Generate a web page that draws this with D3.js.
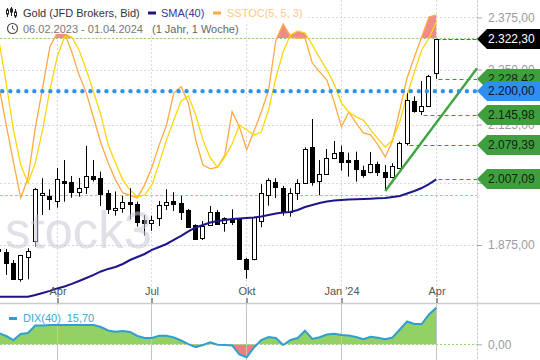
<!DOCTYPE html>
<html><head><meta charset="utf-8">
<style>html,body{margin:0;padding:0;background:#fff}svg{display:block}text{font-family:"Liberation Sans",Arial,sans-serif}</style>
<script src="https://cdn.jsdelivr.net/npm/d3@7"></script></head><body><div id="c"></div>
<script>
const opens=[1867.3,1862.1,1839.7,1810.6,1851.2,1882.3,1975.6,1973,1962.1,2003.9,2001.2,1981.8,1990.9,2014.4,2009.6,1978.5,1943.5,1947.9,1960,1956.6,1924.3,1917.8,1927.7,1954,1962.1,1958,1944.5,1913.8,1889.3,1913.8,1939.5,1917.8,1925.7,1927.7,1847.3,1848.5,1921.7,1974.4,2001.2,1988.9,1939.5,1978.5,2000.4,2075.4,2004.6,2018,2053,2064.7,2048.1,2048.1,2027,2023.7,2039,2023.7,2013,2031.9,2083.6,2176.9,2155.1,2165.7,2241.1];
const closes=[1863.5,1840.9,1809.4,1855.1,1864,1988,1978.5,1967.4,2007.5,2000.4,1981.8,1988.9,2015,2008.1,1976.5,1945.9,1947.9,1960,1956,1919.4,1917.8,1923.7,1954,1960,1957.2,1941.1,1911.1,1886.8,1912.5,1939.5,1915.8,1927.7,1921,1847.3,1829.5,1931,1979.7,2005.4,1990.9,1939.5,1979.7,2000.4,2071.1,2002.5,2018,2051.8,2062.5,2044.5,2044.5,2028.5,2016.5,2039,2023,2013,2034.8,2084,2179.8,2155.1,2165.7,2234.3,2322.3];
const highs=[1869.3,1867.3,1846,1855.7,1868.7,1989.5,2009.6,1986.8,2031.3,2048.1,2014.4,2010.2,2078.2,2048.1,2023.5,1985.4,1982.2,1973,1988.9,1961.3,1934.4,1933,1962.7,1986.8,1980.6,1973.6,1946.5,1915.8,1922.3,1952.6,1944.5,1929.7,1945.9,1927.7,1849.9,1931,1997.1,2009.6,2009.6,1993.6,1988.9,2007.5,2075.4,2137.2,2048.1,2071.8,2089,2078.8,2063.7,2065.9,2036,2065.3,2044.5,2037.6,2041.1,2087.5,2195,2188.2,2223.3,2237.4,2322.3];
const lows=[1859.6,1817.6,1809.4,1804.9,1809.4,1871.8,1934.4,1944.5,1949.1,1961.3,1969.4,1971.5,1977.1,2002.5,1952.6,1936.4,1933,1939,1925.7,1911.1,1893.7,1902.6,1912.5,1944.5,1942.5,1924.3,1911.1,1884.8,1884.8,1913.8,1915.8,1901.2,1914.4,1847.3,1810.6,1845.4,1910,1953.2,1968.8,1933,1931,1964.7,2000.4,1994.2,1974.4,2018,2053,2025.6,2013,2002.5,2010.8,2020,2014.4,1983.3,2009.6,2031.9,2079.39,2151.4,2145.98,2165.7,2228.42];
const sma=[1776.9,1776.9,1776.9,1776.9,1776.9,1780.2,1783.9,1787.7,1792.3,1796,1800.7,1806.2,1811.9,1817.6,1824.2,1829,1832.7,1838.4,1846,1851.8,1857.6,1865.4,1871.2,1877,1884.8,1892.7,1901.6,1909.5,1914.4,1919.4,1922.3,1924.3,1926.3,1927.3,1928.3,1929.4,1931.4,1934.4,1937.4,1939.5,1940.5,1944.5,1950.6,1954.6,1958.6,1961.6,1963.7,1964.7,1965.7,1966.1,1966.8,1967.4,1968.2,1968.8,1970.9,1973,1978,1983.1,1989.3,1997.5,2007.09];
const stochFast=[62.2,47,32.8,19,26.6,45.8,61.1,76.8,82.1,82.1,74.9,66.1,59.2,49.6,40,32.4,25.9,20.9,20.1,19,24,30.8,39.3,46.9,59.2,61.5,55.3,41.2,31.6,30.1,30.8,35.4,51.9,46.2,37.4,44.6,51.9,60.3,79.4,85.6,80.6,80.2,80.2,70.6,67.2,64.1,55.7,46.2,51.9,47.7,43.9,43.1,39.3,34.7,40.8,52.7,64.9,72.9,80.6,88.2,89];
const stochSlow=[79.4,63,45,31.6,24.7,32.4,45,60.3,72.9,80.6,80.6,75.6,68,59.5,50.7,39.3,32.4,25.9,22,19.4,20.1,24,32.4,41.2,48.8,56.1,58,50.7,41.2,34.3,30.8,34.7,39.6,46.9,45,43.1,44.2,52.7,64.9,74.9,81.4,82.9,82.1,77.5,72.6,68,62.6,55.3,51.9,50,48.8,45,41.6,38.5,41.2,48.1,58.4,67.2,75.6,80.2,86.3];
const dix=[4.85,3.56,1.84,4.42,4.85,8.07,8.07,8.28,8.28,8.28,8.28,8.28,8.28,8.28,7.42,5.92,5.41,5.71,5.28,3.56,2.7,2.7,3.69,3.65,2.92,1.63,0.04,-1.29,-0.3,0.86,-0.17,-0.3,-0.51,-4.38,-5.58,-1.37,1.84,3.13,2.7,-0.3,1.84,2.7,5.83,2.27,3,4.2,4.55,3.99,3.73,3.13,2.15,3.26,2.79,2.15,2.92,6.35,9.78,8.71,8.71,12.78,15.7];
const priceTicks=[1875,2000,2125,2250,2375];
const monthWeeks=[8,21,34,47,60];
const monthLabels=["Apr","Jul","Okt","Jan '24","Apr"];
const trendWeeks=[53,65.6];
const trendPrices=[1983.3,2252.8];
const priceLevel=2200;
const greenBadges=[{v:2228.42,from:60},{v:2145.98,from:58},{v:2079.39,from:56},{v:2007.09,from:60}];
const lastClose=2322.30;

const W=540,H=360,axisX=477;
const svg=d3.select("#c").append("svg").attr("width",W).attr("height",H);
const x=d3.scaleLinear().domain([0,60]).range([-1.15,436.25]);
const y=d3.scaleLog().domain([1875,2250]).range([245,69.5]);
const yS=d3.scaleLinear().domain([20,80]).range([195.3,38.5]);
const yD=d3.scaleLinear().domain([0,15.7]).range([344.3,307.7]);
const fmt=d3.formatLocale({decimal:",",thousands:".",grouping:[3],currency:["",""]}).format(",.2f");
const cx=i=>Math.floor(x(i))+0.5;
const idx=d3.range(opens.length);

const defs=svg.append("defs");
defs.append("clipPath").attr("id","main").append("rect").attr("x",0).attr("y",0).attr("width",axisX).attr("height",297);
defs.append("clipPath").attr("id","up").append("rect").attr("x",0).attr("y",0).attr("width",axisX).attr("height",yS(80));
defs.append("clipPath").attr("id","dn").append("rect").attr("x",0).attr("y",yS(20)).attr("width",axisX).attr("height",60);
defs.append("clipPath").attr("id","dPos").append("rect").attr("x",0).attr("y",304).attr("width",axisX).attr("height",yD(0)-304);
defs.append("clipPath").attr("id","dNeg").append("rect").attr("x",0).attr("y",yD(0)).attr("width",axisX).attr("height",360-yD(0));

// grid
const grid=svg.append("g").attr("fill","none");
priceTicks.forEach(t=>grid.append("line").attr("x1",0).attr("x2",axisX).attr("y1",Math.round(y(t))+.5).attr("y2",Math.round(y(t))+.5).attr("stroke","#d4d6e2").attr("stroke-dasharray","2 2"));
monthWeeks.forEach(w=>grid.append("line").attr("x1",cx(w)).attr("x2",cx(w)).attr("y1",0).attr("y2",297).attr("stroke","#d6d8e4").attr("stroke-dasharray","2 2"));
grid.append("line").attr("x1",axisX+.5).attr("x2",axisX+.5).attr("y1",0).attr("y2",360).attr("stroke","#cfcfd4").attr("stroke-dasharray","3 1");

// stochastic fills
const upper=i=>Math.max(stochFast[i],stochSlow[i]), lower=i=>Math.min(stochFast[i],stochSlow[i]);
svg.append("path").datum(idx).attr("clip-path","url(#up)").attr("fill","#ee8b8b")
 .attr("d",d3.area().x(i=>x(i)).y0(yS(80)).y1(i=>yS(upper(i))));
svg.append("path").datum(idx).attr("clip-path","url(#dn)").attr("fill","#a6d98a")
 .attr("d",d3.area().x(i=>x(i)).y0(yS(20)).y1(i=>yS(lower(i))));

// levels
svg.append("line").attr("x1",0).attr("x2",axisX).attr("y1",Math.floor(yS(80))+.5).attr("y2",Math.floor(yS(80))+.5).attr("stroke","#93d873").attr("stroke-dasharray","2 2");
svg.append("line").attr("x1",0).attr("x2",axisX).attr("y1",Math.floor(yS(20))+.5).attr("y2",Math.floor(yS(20))+.5).attr("stroke","#f3a89c").attr("stroke-dasharray","3 2");

// stochastic lines
const sl=a=>d3.line().x(i=>x(i)).y(i=>yS(a[i]));
svg.append("path").datum(idx).attr("fill","none").attr("stroke","#ffaa45").attr("stroke-width",1.3).attr("d",sl(stochFast));
svg.append("path").datum(idx).attr("fill","none").attr("stroke","#ffd60a").attr("stroke-width",1.3).attr("d",sl(stochSlow));

// level lines to axis
greenBadges.forEach(b=>{svg.append("line").attr("x1",cx(b.from)+2).attr("x2",axisX).attr("y1",Math.round(y(b.v))+.5).attr("y2",Math.round(y(b.v))+.5).attr("stroke","#2f9a2f").attr("stroke-width",1.2).attr("stroke-dasharray","4 3");});
svg.append("line").attr("x1",cx(60)).attr("x2",axisX).attr("y1",Math.floor(y(lastClose))+.5).attr("y2",Math.floor(y(lastClose))+.5).attr("stroke","#ee2a10").attr("stroke-width",1.2).attr("stroke-dasharray","4 2");

// candles
const c=svg.append("g").attr("clip-path","url(#main)");
c.selectAll("line").data(idx).join("line").attr("x1",cx).attr("x2",cx)
 .attr("y1",i=>y(highs[i])).attr("y2",i=>y(lows[i])).attr("stroke","#000").attr("stroke-width",1);
c.selectAll("rect").data(idx).join("rect")
 .attr("x",i=>cx(i)-2).attr("width",4)
 .attr("y",i=>Math.round(y(Math.max(opens[i],closes[i])))+.5)
 .attr("height",i=>Math.max(1,Math.round(y(Math.min(opens[i],closes[i])))-Math.round(y(Math.max(opens[i],closes[i])))))
 .attr("fill",i=>closes[i]>=opens[i]?"#fff":"#000").attr("stroke","#000").attr("stroke-width",1);

// SMA
svg.append("path").datum(idx).attr("fill","none").attr("stroke","#1d1688").attr("stroke-width",2)
 .attr("d",d3.line().x(i=>x(i)).y(i=>y(sma[i])));

// trend
svg.append("line").attr("x1",x(trendWeeks[0])).attr("y1",y(trendPrices[0])).attr("x2",x(trendWeeks[1])).attr("y2",y(trendPrices[1]))
 .attr("stroke","#3fa53f").attr("stroke-width",2.4);

// blue level
svg.append("line").attr("x1",2.3).attr("x2",axisX).attr("y1",y(priceLevel)).attr("y2",y(priceLevel))
 .attr("stroke","#2f92f2").attr("stroke-width",4.4).attr("stroke-linecap","round").attr("stroke-dasharray","0.01 8");

// watermark
svg.append("text").attr("x",5).attr("y",248).attr("font-size",52).attr("font-family","'Liberation Sans',sans-serif").attr("textLength",147).attr("lengthAdjust","spacingAndGlyphs")
 .attr("fill","#c6c8d6").attr("opacity",.55).text("stock3");

// right axis
const ax=svg.append("g").attr("transform",`translate(${axisX},0)`).call(d3.axisRight(y).tickValues(priceTicks).tickFormat(fmt).tickSize(5).tickPadding(6));
ax.select(".domain").remove();
ax.selectAll("line").attr("stroke","#aaa");
ax.selectAll("text").attr("fill","#9b9ba3").attr("font-size",12).attr("font-family","'Liberation Sans',sans-serif");

// badges
function badge(v,fill,tc){
 const m=Math.round(y(v));
 const g=svg.append("g");
 g.append("path").attr("fill",fill).attr("d",`M${axisX},${m}L487,${m-10}H540V${m+10}H487Z`);
 g.append("text").attr("x",488).attr("y",m).attr("dy","0.35em").attr("font-size",12).attr("fill",tc).text(fmt(v));
}
greenBadges.forEach(b=>badge(b.v,"#3f9f3f","#10240f"));
badge(priceLevel,"#2f8ff0","#06152a");
badge(lastClose,"#000","#fff");

// lower panel
svg.append("g").attr("clip-path","url(#dPos)").append("path").datum(idx).attr("fill","#93d164")
 .attr("d",d3.area().x(i=>x(i)).y0(yD(0)).y1(i=>yD(dix[i])));
svg.append("g").attr("clip-path","url(#dNeg)").append("path").datum(idx).attr("fill","#ee7f7f")
 .attr("d",d3.area().x(i=>x(i)).y0(yD(0)).y1(i=>yD(dix[i])));
monthWeeks.forEach(w=>svg.append("line").attr("x1",cx(w)).attr("x2",cx(w)).attr("y1",304).attr("y2",360).attr("stroke","#c4c4c4"));
svg.append("line").attr("x1",0).attr("x2",axisX).attr("y1",Math.floor(yD(0))+.5).attr("y2",Math.floor(yD(0))+.5).attr("stroke","#93d873").attr("stroke-dasharray","2 2");
svg.append("rect").attr("x",0).attr("y",305).attr("width",100).attr("height",20).attr("fill","#fff").attr("opacity",.8);
svg.append("path").datum(idx).attr("fill","none").attr("stroke","#2f9fd2").attr("stroke-width",2)
 .attr("d",d3.line().x(i=>x(i)).y(i=>yD(dix[i])));
svg.append("line").attr("x1",0).attr("x2",W).attr("y1",303.5).attr("y2",303.5).attr("stroke","#ccc").attr("stroke-width",1.6);
svg.append("rect").attr("x",9).attr("y",317).attr("width",8).attr("height",3).attr("fill","#2f9fd2");
svg.append("text").attr("x",23).attr("y",322).attr("font-size",11).attr("fill","#3aa6da").text("DIX(40)");
svg.append("text").attr("x",66.7).attr("y",322).attr("font-size",11).attr("fill","#3aa6da").text("15,70");
const axD=svg.append("g").attr("transform",`translate(${axisX},0)`).call(d3.axisRight(yD).tickValues([0]).tickFormat(fmt).tickSize(5).tickPadding(6));
axD.select(".domain").remove();axD.selectAll("line").attr("stroke","#aaa");
axD.selectAll("text").attr("fill","#9b9ba3").attr("font-size",12).attr("font-family","'Liberation Sans',sans-serif");

// x axis
const ay=svg.append("g").attr("transform","translate(0,303)").call(d3.axisTop(d3.scaleLinear().domain([0,540]).range([0,540])).tickValues(monthWeeks.map(cx)).tickFormat((d,i)=>monthLabels[i]).tickSize(5).tickPadding(3));
ay.select(".domain").remove();ay.selectAll("line").attr("stroke","#333");
ay.selectAll("text").attr("fill","#555").attr("font-size",11).attr("font-family","'Liberation Sans',sans-serif");

// legend
svg.append("rect").attr("x",0).attr("y",0).attr("width",306).attr("height",22).attr("fill","#fff").attr("opacity",.8);
svg.append("rect").attr("x",0).attr("y",22).attr("width",240).attr("height",12).attr("fill","#fff").attr("opacity",.8);
const ic=svg.append("g").attr("stroke","#222").attr("fill","none");
[[7.5,8,17,10,14],[11.5,7,16,9,12],[15.5,9,18,12,16]].forEach(([a,t,b,r1,r2])=>{
 ic.append("line").attr("x1",a).attr("x2",a).attr("y1",t).attr("y2",b);
 ic.append("rect").attr("x",a-1).attr("width",2).attr("y",r1).attr("height",r2-r1).attr("fill",a==11.5?"#222":"#fff");
});
svg.append("circle").attr("cx",12.5).attr("cy",28.5).attr("r",5).attr("fill","#fff").attr("stroke","#444").attr("stroke-width",1.1);
svg.append("path").attr("d","M12.5,25.5V28.5L15,30").attr("fill","none").attr("stroke","#444");
const tx=(X,Y,s,col)=>svg.append("text").attr("x",X).attr("y",Y).attr("font-size",11).attr("fill",col).text(s);
tx(23,16.5,"Gold (JFD Brokers, Bid)","#333");
svg.append("rect").attr("x",148).attr("y",11.5).attr("width",8).attr("height",3).attr("fill","#1d1688");
tx(161,16.5,"SMA(40)","#3a35a0");
svg.append("rect").attr("x",213).attr("y",11.5).attr("width",8).attr("height",3).attr("fill","#ffaa45");
tx(227,16.5,"SSTOC(5, 5, 3)","#ffc985");
tx(23,32.5,"06.02.2023 - 01.04.2024","#777");
tx(152,32.5,"(1 Jahr, 1 Woche)","#666");
</script></body></html>
